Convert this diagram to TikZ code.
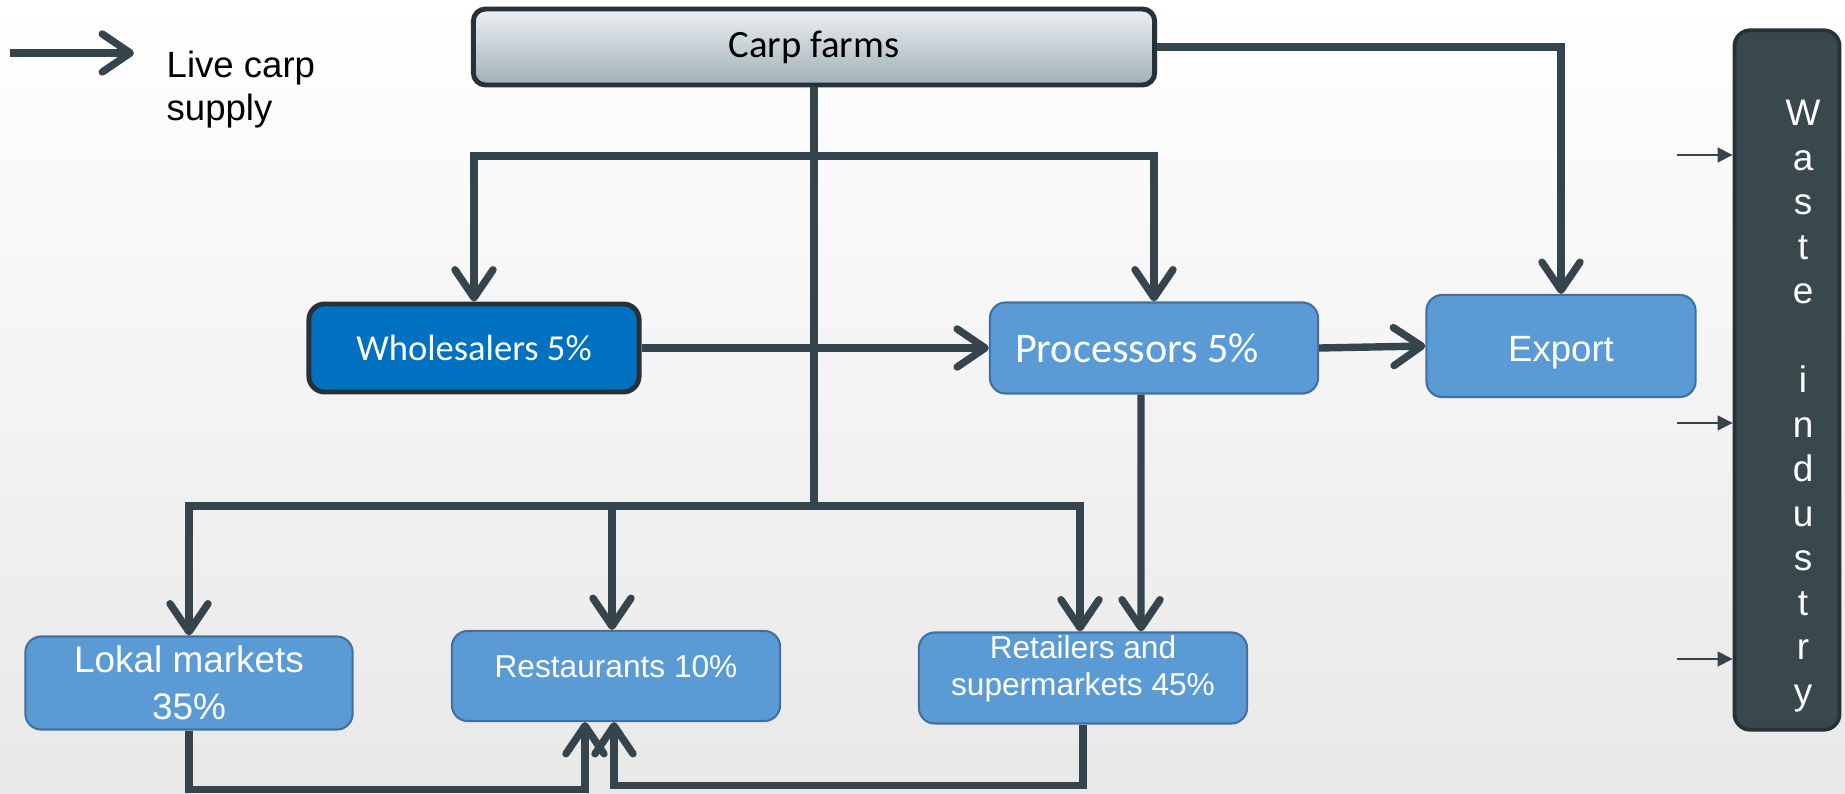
\documentclass[tikz,border=0pt]{standalone}
\usepackage{fontspec}
\setmainfont{Liberation Sans}
\newfontfamily\calibri{Carlito}
\usetikzlibrary{arrows.meta,calc}
\definecolor{FlowSlate}{RGB}{54,69,77}
\definecolor{FlowBlue}{RGB}{91,155,213}
\definecolor{FlowBlueEdge}{RGB}{65,113,156}
\definecolor{FlowDeepBlue}{RGB}{0,112,192}
\definecolor{FlowDark}{RGB}{38,50,56}
\definecolor{FlowWaste}{RGB}{57,72,77}
\definecolor{FarmTop}{RGB}{238,241,243}
\definecolor{FarmBottom}{RGB}{158,175,182}

\begin{document}
\begin{tikzpicture}[
    x=0.01cm, y=-0.01cm,
    >={Straight Barb[length=2.8mm,width=3.8mm,line cap=round,line join=round]},
    bluebox/.style={
        draw=FlowBlueEdge,
        line width=0.6pt,
        rounded corners=4.5pt,
        fill=FlowBlue,
        text=white,
        align=center,
        inner sep=0pt,
        minimum width=3.28cm,
        minimum height=0.91cm
    },
    farmbox/.style={
        draw=FlowDark,
        line width=1.4pt,
        rounded corners=3.5pt,
        top color=FarmTop,
        bottom color=FarmBottom,
        minimum width=6.81cm,
        minimum height=0.76cm,
        font=\calibri\fontsize{11}{13}\selectfont
    },
    wholebox/.style={
        draw=FlowDark,
        line width=1.4pt,
        rounded corners=4.5pt,
        fill=FlowDeepBlue,
        text=white,
        minimum width=3.30cm,
        minimum height=0.88cm,
        font=\calibri\fontsize{10.4}{12}\selectfont
    },
    wastebox/.style={
        draw=FlowDark,
        line width=1.1pt,
        rounded corners=4.5pt,
        fill=FlowWaste,
        text=white,
        inner sep=0pt,
        minimum width=1.05cm,
        minimum height=6.99cm,
        font=\fontsize{10.5}{12.66}\selectfont
    },
    flow/.style={line width=2.1pt, draw=FlowSlate},
    arrow/.style={->, line width=2.1pt, draw=FlowSlate},
    wastearrow/.style={-{Triangle[length=1.5mm,width=1.5mm]}, line width=0.45pt, draw=FlowSlate}
]

% background
\fill[top color=white, middle color=white, bottom color=black!9] (0,0) rectangle (1845,794);
\useasboundingbox (0,0) rectangle (1845,794);

% legend
\coordinate (leg) at (10,53);
\draw[arrow] (leg) -- ++(124,0);
\node[anchor=north west, inner sep=0pt, align=left, font=\fontsize{10.4}{12.3}\selectfont] (legtxt) at (166,50) {Live carp\\supply};

% boxes
\node[farmbox] (farms) at (814,47) {Carp farms};
\node[wholebox] (whole) at (474,348) {Wholesalers 5\%};
\node[bluebox, font=\calibri\fontsize{12}{14}\selectfont] (proc) at (1154,348) {Processors 5\%\hspace*{0.34cm}};
\node[bluebox, minimum width=2.69cm, minimum height=1.02cm, font=\fontsize{10.4}{12}\selectfont] (export) at (1561,346) {\raisebox{-0.07cm}[\height][\depth]{Export}};
\node[bluebox, minimum width=3.27cm, minimum height=0.93cm, font=\fontsize{10.5}{13.4}\selectfont] (lokal) at (189,683) {Lokal markets\\35\%};
\node[bluebox, minimum height=0.90cm, font=\fontsize{9}{11}\selectfont] (rest) at (616,676) {\raisebox{0.09cm}[\height][\depth]{Restaurants 10\%}};
\node[bluebox, font=\fontsize{9}{10.5}\selectfont] (retail) at (1083,678) {\raisebox{0.08cm}[\height][\depth]{\begin{tabular}{@{}c@{}}Retailers and\\supermarkets 45\%\end{tabular}}};
\node[wastebox] (waste) at (1787,380) {\raisebox{-0.26cm}[\height][\depth]{\hspace*{0.32cm}\begin{tabular}{@{}c@{}}W\\a\\s\\t\\e\\ \\i\\n\\d\\u\\s\\t\\r\\y\end{tabular}}};

% supply lines
\coordinate (hub1) at (814,156);
\coordinate (hub2) at (814,506);
\draw[flow] (farms.south) -- (hub2);
\draw[arrow] (hub1) -| (whole.north);
\draw[arrow] (hub1) -| (proc.north);
\draw[arrow] (farms.east) -| (export.north);
\draw[arrow] (whole.east) -- (proc.west);
\draw[arrow] (proc.east) -- (export.west);
\draw[arrow] ([xshift=-0.13cm]proc.south) -- ([xshift=0.58cm]retail.north);
\draw[arrow] (hub2) -| (lokal.north);
\draw[arrow] (hub2) -| ([xshift=-0.04cm]rest.north);
\draw[arrow] (hub2) -| ([xshift=-0.03cm]retail.north);
\draw[arrow] (lokal.south) -- ++(0,59) -| ([xshift=-0.31cm]rest.south);
\draw[arrow] (retail.south) -- ++(0,61) -| ([xshift=-0.02cm]rest.south);

% into waste industry
\coordinate (w1) at (1677,155);
\coordinate (w2) at (1677,423);
\coordinate (w3) at (1677,659);
\draw[wastearrow] (w1) -- (w1 -| waste.west);
\draw[wastearrow] (w2) -- (w2 -| waste.west);
\draw[wastearrow] (w3) -- (w3 -| waste.west);

\end{tikzpicture}
\end{document}
